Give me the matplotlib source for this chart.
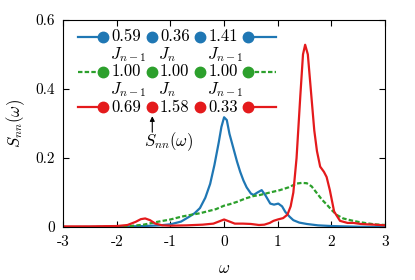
import matplotlib
matplotlib.use("Agg")
import matplotlib.pyplot as plt

plt.rcParams['mathtext.fontset'] = 'cm'
plt.rcParams['font.family'] = ['cmr10', 'DejaVu Serif']
plt.rcParams['axes.formatter.use_mathtext'] = True

# ---- data ----
x_blue = [-3, -2.5, -2, -1.5, -1.2, -1.0, -0.8, -0.65, -0.55, -0.45, -0.35, -0.26, -0.18, -0.1, -0.05,
          0.0, 0.05, 0.1, 0.17, 0.24, 0.3, 0.36, 0.42, 0.5, 0.55, 0.62, 0.7, 0.77, 0.86, 0.93, 1.01,
          1.08, 1.14, 1.22, 1.29, 1.4, 1.54, 1.75, 2.0, 2.5, 3.0]
y_blue = [0.0, 0.0005, 0.001, 0.003, 0.005, 0.008, 0.016, 0.03, 0.04, 0.055, 0.085, 0.125, 0.18, 0.245, 0.29,
          0.318, 0.31, 0.27, 0.23, 0.19, 0.16, 0.135, 0.115, 0.097, 0.093, 0.1, 0.107, 0.092, 0.068, 0.065, 0.068,
          0.06, 0.044, 0.03, 0.02, 0.013, 0.009, 0.005, 0.003, 0.001, 0.0]

x_green = [-3, -2.5, -2.0, -1.75, -1.5, -1.25, -1.0, -0.8, -0.6, -0.45, -0.3, -0.15, 0.0, 0.1, 0.24, 0.4,
           0.55, 0.67, 0.85, 1.04, 1.2, 1.35, 1.45, 1.54, 1.63, 1.73, 1.82, 1.92, 2.0, 2.1, 2.22, 2.35,
           2.5, 2.66, 2.8, 3.0]
y_green = [0.0, 0.0, 0.001, 0.003, 0.007, 0.015, 0.022, 0.03, 0.036, 0.04, 0.046, 0.052, 0.062, 0.066, 0.073, 0.083,
           0.09, 0.093, 0.1, 0.107, 0.115, 0.126, 0.128, 0.127, 0.118, 0.098, 0.08, 0.064, 0.05, 0.035, 0.025, 0.02,
           0.015, 0.011, 0.008, 0.006]

x_red = [-3, -2.5, -2.0, -1.8, -1.65, -1.55, -1.47, -1.38, -1.28, -1.15, -1.0, -0.7, -0.4, -0.2, -0.1,
         0.0, 0.1, 0.2, 0.35, 0.5, 0.65, 0.75, 0.85, 0.92, 1.0, 1.1, 1.18, 1.24, 1.29, 1.35, 1.42, 1.47,
         1.51, 1.56, 1.62, 1.68, 1.73, 1.79, 1.86, 1.91, 1.97, 2.05, 2.16, 2.3, 2.41, 2.55, 2.66, 2.8, 3.0]
y_red = [0.002, 0.002, 0.003, 0.006, 0.015, 0.023, 0.025, 0.02, 0.01, 0.005, 0.004, 0.005, 0.007, 0.01, 0.016,
         0.022, 0.016, 0.01, 0.01, 0.009, 0.006, 0.007, 0.012, 0.018, 0.022, 0.026, 0.036, 0.06, 0.1, 0.2, 0.38, 0.5,
         0.528, 0.5, 0.39, 0.28, 0.22, 0.175, 0.16, 0.145, 0.107, 0.045, 0.018, 0.012, 0.012, 0.009, 0.008, 0.007, 0.005]

couplings = [["0.59", "0.36", "1.41"],
             ["1.00", "1.00", "1.00"],
             ["0.69", "1.58", "0.33"]]
bond_labels = [r"$J_{n-1}$", r"$J_n$", r"$J_{n-1}$"]

xticks = [-3, -2, -1, 0, 1, 2, 3]
xticklabels = ["-3", "-2", "-1", "0", "1", "2", "3"]
yticks = [0, 0.2, 0.4, 0.6]
yticklabels = ["0", "0.2", "0.4", "0.6"]

blue = '#1f77b4'
green = '#2ca02c'
red = '#e41a1c'
colors = [blue, green, red]
styles = ['-', (0, (2.0, 1.0)), '-']

fig = plt.figure(figsize=(4.15, 2.8), dpi=100)
ax = fig.add_axes([0.152, 0.189, 0.776, 0.740])

ax.plot(x_blue, y_blue, color=blue, lw=1.6, solid_joinstyle='round')
ax.plot(x_green, y_green, color=green, lw=1.6, linestyle=styles[1])
ax.plot(x_red, y_red, color=red, lw=1.6, solid_joinstyle='round')

ax.set_xlim(-3, 3)
ax.set_ylim(0, 0.6)
ax.set_xticks(xticks)
ax.set_xticklabels(xticklabels)
ax.set_yticks(yticks)
ax.set_yticklabels(yticklabels)
ax.tick_params(direction='in', top=True, right=True, length=4, labelsize=11, pad=6)
ax.set_xlabel(r"$\omega$", fontsize=12, labelpad=8)
ax.set_ylabel(r"$S_{nn}(\omega)$", fontsize=12, labelpad=6)

# chain diagram
row_y = [0.919, 0.750, 0.578]
label_y = [0.831, 0.662]
dot_x = [0.125, 0.277, 0.426, 0.575]
line_ends = [0.047, 0.660]
num_x = [0.151, 0.301, 0.452]
tr = ax.transAxes
for r in range(3):
    c = colors[r]
    ls = styles[r]
    ax.plot([line_ends[0], dot_x[0]], [row_y[r]] * 2, transform=tr, color=c, lw=1.6, linestyle=ls)
    ax.plot([dot_x[3], line_ends[1]], [row_y[r]] * 2, transform=tr, color=c, lw=1.6, linestyle=ls)
    ax.plot(dot_x, [row_y[r]] * 4, transform=tr, linestyle='none', marker='o', ms=7.5, color=c)
    for k in range(3):
        ax.text(num_x[k], row_y[r], couplings[r][k], transform=tr, ha='left', va='center', fontsize=12)
for ly in label_y:
    for k in range(3):
        ax.text(num_x[k] - 0.005, ly, bond_labels[k], transform=tr, ha='left', va='center', fontsize=12)

ax.annotate("", xy=(dot_x[1], 0.535), xycoords=tr,
            xytext=(dot_x[1], 0.458), textcoords=tr,
            arrowprops=dict(arrowstyle='-|>', color='black', lw=0.8, mutation_scale=7,
                            shrinkA=0, shrinkB=0))
ax.text(0.327, 0.412, r"$S_{nn}(\omega)$", transform=tr, ha='center', va='center', fontsize=12)

fig.savefig("out.png", dpi=100)
